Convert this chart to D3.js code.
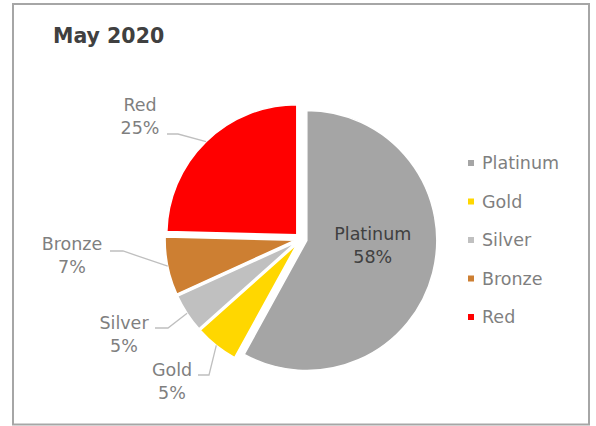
<!DOCTYPE html>
<html>
<head>
<meta charset="utf-8">
<script src="https://cdn.jsdelivr.net/npm/d3@7"></script>
<style>
    body { margin: 0; background: #fff; }
    svg { display: block; font-family: "DejaVu Sans", Verdana, sans-serif; }
</style>
</head>
<body>
<div id="chart"></div>
<script>
// chart data (share of members per tier, May 2020)
const categories = ["Platinum", "Gold", "Silver", "Bronze", "Red"];
const values = [58.0, 5.4, 4.8, 7.2, 24.6];
const colors = ["#a5a5a5", "#ffd700", "#c0c0c0", "#cd7f32", "#ff0000"];
const title = "May 2020";

const width = 596, height = 426;
const cx = 301, cy = 239, radius = 130, explode = 6;

// where the outside labels sit (text centre, first baseline, leader elbow)
const labelLayout = {
    Red:    {tx: 140, ty: 111, hx: 167, ex: 178, ey: 134},
    Bronze: {tx: 72,  ty: 250, hx: 110, ex: 123, ey: 251},
    Silver: {tx: 124, ty: 329, hx: 155, ex: 168, ey: 328},
    Gold:   {tx: 172, ty: 376, hx: 198, ex: 209, ey: 375}
};

const svg = d3.select("#chart")
    .append("svg")
    .attr("width", width)
    .attr("height", height);

// outer frame
svg.append("rect")
    .attr("x", 13)
    .attr("y", 4)
    .attr("width", 576)
    .attr("height", 420.5)
    .attr("fill", "none")
    .attr("stroke", "#a6a6a6")
    .attr("stroke-width", 2);

svg.append("text")
    .attr("x", 53)
    .attr("y", 43)
    .attr("fill", "#404040")
    .attr("font-size", "20.5px")
    .attr("font-weight", "bold")
    .text(title);

const data = categories.map((c, i) => ({name: c, value: values[i], color: colors[i]}));
const total = d3.sum(values);

const pie = d3.pie().sort(null).value(d => d.value);
const arc = d3.arc().innerRadius(0).outerRadius(radius);
const arcs = pie(data);

// offset of an angle (d3 convention: 0 at 12 o'clock, clockwise)
const polar = (a, r) => [Math.sin(a) * r, -Math.cos(a) * r];

const g = svg.append("g")
    .attr("transform", `translate(${cx},${cy})`);

g.selectAll("path")
    .data(arcs)
    .enter()
    .append("path")
    .attr("d", arc)
    .attr("fill", d => d.data.color)
    .attr("stroke", "#fff")
    .attr("stroke-width", 1.5)
    .attr("transform", d => {
        const [dx, dy] = polar((d.startAngle + d.endAngle) / 2, explode);
        return `translate(${dx},${dy})`;
    });

const pct = d => Math.round(d.data.value / total * 100) + "%";

// label for the big slice sits inside it
arcs.filter(d => !labelLayout[d.data.name]).forEach(d => {
    const [ox, oy] = polar((d.startAngle + d.endAngle) / 2, explode);
    const [x, y] = arc.centroid(d);
    const t = g.append("text")
        .attr("text-anchor", "middle")
        .attr("fill", "#404040")
        .attr("font-size", "17.5px");
    t.append("tspan").attr("x", x + ox + 3).attr("y", y + oy - 17).text(d.data.name);
    t.append("tspan").attr("x", x + ox + 3).attr("y", y + oy + 6).text(pct(d));
});

// outside labels with leader lines
arcs.filter(d => labelLayout[d.data.name]).forEach(d => {
    const L = labelLayout[d.data.name];
    const mid = (d.startAngle + d.endAngle) / 2;
    const [ox, oy] = polar(mid, explode);
    const [px, py] = polar(mid, radius);
    svg.append("polyline")
        .attr("points", [[L.hx, L.ey], [L.ex, L.ey], [cx + ox + px, cy + oy + py]].join(" "))
        .attr("fill", "none")
        .attr("stroke", "#bfbfbf")
        .attr("stroke-width", 1.3);
    const t = svg.append("text")
        .attr("text-anchor", "middle")
        .attr("fill", "#7f7f7f")
        .attr("font-size", "17.5px");
    t.append("tspan").attr("x", L.tx).attr("y", L.ty).text(d.data.name);
    t.append("tspan").attr("x", L.tx).attr("y", L.ty + 23).text(pct(d));
});

// legend
const legendY = d3.scalePoint().domain(categories).range([163, 317]);
const legend = svg.append("g");
const item = legend.selectAll("g")
    .data(data)
    .enter()
    .append("g")
    .attr("transform", d => `translate(468,${legendY(d.name)})`);
item.append("rect")
    .attr("x", 0)
    .attr("y", -3)
    .attr("width", 6)
    .attr("height", 6)
    .attr("fill", d => d.color);
item.append("text")
    .attr("x", 14)
    .attr("y", 6)
    .attr("fill", "#7f7f7f")
    .attr("font-size", "17.5px")
    .text(d => d.name);
</script>
</body>
</html>
